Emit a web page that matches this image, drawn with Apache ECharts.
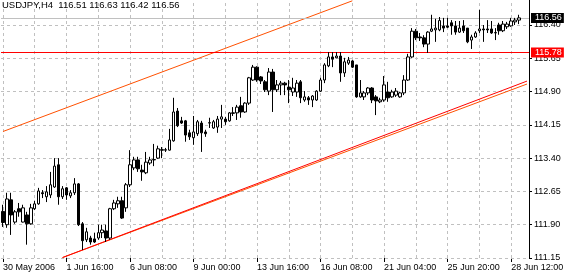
<!DOCTYPE html>
<html>
<head>
<meta charset="utf-8">
<script src="https://cdn.jsdelivr.net/npm/echarts@6/dist/echarts.min.js"></script>
<style>
html, body { margin: 0; padding: 0; background: #fff; }
#chart { width: 570px; height: 277px; }
</style>
</head>
<body>
<div id="chart"></div>
<script>
// H4 bars: day, first hour, number of bars
var sessions = [
    ['30 May', 0, 6], ['31 May', 0, 6], ['1 Jun', 0, 6], ['2 Jun', 0, 5], ['4 Jun', 20, 1],
    ['5 Jun', 0, 6], ['6 Jun', 0, 6], ['7 Jun', 0, 6], ['8 Jun', 0, 6], ['9 Jun', 0, 5], ['11 Jun', 20, 1],
    ['12 Jun', 0, 6], ['13 Jun', 0, 6], ['14 Jun', 0, 6], ['15 Jun', 0, 6], ['16 Jun', 0, 5],
    ['19 Jun', 0, 6], ['20 Jun', 0, 6], ['21 Jun', 0, 6], ['22 Jun', 0, 6], ['23 Jun', 0, 5], ['25 Jun', 20, 1],
    ['26 Jun', 0, 6], ['27 Jun', 0, 6], ['28 Jun', 0, 6]
];

var tickLabels = ['30 May 2006', '1 Jun 16:00', '6 Jun 08:00', '9 Jun 00:00', '13 Jun 16:00',
    '16 Jun 08:00', '21 Jun 04:00', '25 Jun 20:00', '28 Jun 12:00'];
var priceTicks = { min: 111.15, max: 116.963, step: 0.75 };

var open = [
    112.20, 111.90, 112.46, 111.96, 112.26, 111.96, 112.12, 111.92, 112.26, 112.37,
    112.62, 112.53, 112.57, 112.75, 113.25, 112.53, 112.73, 112.55, 112.62, 112.82,
    111.92, 111.56, 111.60, 111.58, 111.60, 111.72, 111.76, 111.60, 112.26, 112.37,
    112.44, 112.28, 112.80, 113.18, 113.36, 113.13, 113.07, 113.29, 113.36, 113.40,
    113.59, 113.58, 113.58, 113.79, 114.46, 114.24, 114.24, 113.97, 113.86, 113.95,
    114.19, 113.99, 114.19, 114.08, 114.10, 114.28, 114.28, 114.24, 114.42, 114.42,
    114.58, 114.44, 114.64, 115.16, 115.45, 115.23, 115.12, 114.91, 115.34, 114.94,
    115.05, 115.09, 115.00, 114.89, 114.89, 115.12, 114.71, 114.76, 114.71, 114.71,
    114.91, 115.16, 115.48, 115.68, 115.66, 115.70, 115.32, 115.54, 115.59, 115.50,
    114.78, 114.78, 114.87, 114.98, 114.78, 114.67, 114.71, 114.89, 114.78, 114.82,
    114.78, 114.87, 115.16, 115.68, 116.26, 116.13, 116.11, 115.97, 116.26, 116.29,
    116.29, 116.38, 116.38, 116.45, 116.38, 116.24, 116.38, 116.33, 116.06, 116.13,
    116.27, 116.31, 116.31, 116.31, 116.22, 116.40, 116.27, 116.36, 116.38, 116.47,
    116.51
];
var close = [
    111.95, 112.48, 112.12, 112.19, 112.19, 112.28, 111.92, 112.28, 112.37, 112.66,
    112.60, 112.64, 112.80, 113.22, 112.53, 112.71, 112.57, 112.62, 112.82, 111.90,
    111.54, 111.74, 111.51, 111.51, 111.72, 111.78, 111.60, 112.26, 112.39, 112.44,
    112.05, 112.80, 113.25, 113.36, 113.16, 113.09, 113.31, 113.36, 113.37, 113.61,
    113.58, 113.59, 113.81, 114.44, 114.13, 114.19, 113.92, 113.88, 113.99, 114.22,
    113.97, 113.95, 114.20, 114.22, 114.28, 114.33, 114.22, 114.42, 114.41, 114.55,
    114.44, 114.64, 115.21, 115.45, 115.16, 115.14, 114.94, 115.34, 114.94, 115.05,
    115.09, 115.05, 114.94, 114.98, 115.09, 114.76, 114.78, 114.71, 114.80, 114.91,
    115.16, 115.50, 115.68, 115.63, 115.70, 115.32, 115.57, 115.61, 115.45, 114.78,
    114.87, 114.87, 114.98, 114.71, 114.69, 114.71, 115.05, 114.76, 114.89, 114.91,
    114.87, 115.16, 115.68, 116.26, 116.11, 116.11, 115.97, 116.24, 116.31, 116.33,
    116.50, 116.33, 116.35, 116.38, 116.24, 116.33, 116.27, 116.02, 116.13, 116.22,
    116.31, 116.29, 116.29, 116.22, 116.23, 116.27, 116.42, 116.42, 116.49, 116.51,
    116.56
];
var low = [
    111.85, 111.83, 111.67, 111.92, 112.08, 111.95, 111.45, 111.90, 112.23, 112.35,
    112.50, 112.41, 112.50, 112.73, 112.35, 112.48, 112.46, 112.50, 112.57, 111.87,
    111.33, 111.51, 111.45, 111.49, 111.56, 111.60, 111.51, 111.56, 112.23, 112.28,
    112.03, 112.19, 112.75, 113.13, 113.09, 112.89, 113.04, 113.25, 113.22, 113.38,
    113.40, 113.54, 113.57, 113.77, 114.10, 114.17, 113.77, 113.81, 113.70, 113.90,
    113.54, 113.88, 114.08, 114.06, 113.97, 114.08, 114.15, 114.22, 114.35, 114.26,
    114.31, 114.42, 114.60, 115.14, 115.12, 115.07, 114.89, 114.82, 114.44, 114.89,
    114.82, 114.82, 114.64, 114.80, 114.78, 114.64, 114.67, 114.60, 114.55, 114.69,
    114.89, 115.09, 115.45, 115.45, 115.65, 115.12, 115.23, 115.50, 115.43, 114.76,
    114.76, 114.71, 114.82, 114.64, 114.37, 114.64, 114.67, 114.67, 114.76, 114.78,
    114.76, 114.82, 115.14, 115.66, 116.06, 116.04, 115.90, 115.77, 116.24, 116.02,
    116.26, 116.24, 116.33, 116.18, 116.18, 116.22, 116.22, 115.99, 115.86, 116.11,
    116.22, 116.02, 116.22, 116.20, 116.06, 116.18, 116.24, 116.31, 116.36, 116.40,
    116.42
];
var high = [
    112.35, 112.62, 112.62, 112.23, 112.39, 112.35, 112.19, 112.37, 112.44, 112.73,
    112.68, 112.77, 113.09, 113.40, 113.40, 112.77, 112.75, 112.68, 112.95, 112.84,
    111.96, 111.83, 111.65, 111.72, 111.90, 111.90, 111.90, 112.28, 112.46, 112.53,
    112.53, 112.84, 113.58, 113.43, 113.43, 113.25, 113.54, 113.43, 113.72, 113.68,
    113.65, 113.63, 114.06, 114.76, 114.53, 114.33, 114.26, 114.04, 114.35, 114.26,
    114.24, 114.04, 114.31, 114.26, 114.35, 114.60, 114.33, 114.44, 114.55, 114.60,
    114.78, 114.66, 115.23, 115.50, 115.47, 115.25, 115.16, 115.43, 115.41, 115.16,
    115.14, 115.12, 115.16, 115.21, 115.16, 115.16, 114.91, 114.80, 114.82, 114.93,
    115.21, 115.54, 115.79, 115.79, 115.79, 115.79, 115.66, 115.68, 115.61, 115.50,
    115.16, 114.91, 115.00, 115.00, 114.82, 114.76, 115.25, 115.12, 114.94, 114.98,
    114.89, 115.27, 115.75, 116.33, 116.31, 116.22, 116.17, 116.26, 116.63, 116.54,
    116.58, 116.56, 116.56, 116.51, 116.49, 116.49, 116.51, 116.33, 116.18, 116.26,
    116.74, 116.40, 116.51, 116.49, 116.33, 116.45, 116.49, 116.47, 116.56, 116.56,
    116.63
];

// trend lines: [bar index, price]
var upperLine = [[0, 114.00], [88, 116.945]];
var lowerRedLine = [[15, 111.16], [132, 115.136]];
var lowerOrangeLine = [[15, 111.16], [132, 115.07]];
var levelPrice = 115.78;
var bidPrice = 116.56;

var categories = [];
sessions.forEach(function (s) {
    for (var k = 0; k < s[2]; k++) {
        var h = s[1] + 4 * k;
        categories.push(s[0] + ' ' + (h < 10 ? '0' : '') + h + ':00');
    }
});
// empty bars for the chart shift on the right
categories.push('', ' ');

var candles = open.map(function (o, i) {
    return [o, close[i], low[i], high[i]];
});

var font = 'Liberation Sans, Arial, sans-serif';
var gridColor = '#c0c0c0';

// chart grid: a vertical line every 8 bars, a horizontal one on every price tick
var gridStyle = { color: gridColor, type: [3, 3], width: 1 };
var gridLines = [];
for (var k = 0; k <= 128; k += 8) {
    gridLines.push({ xAxis: k, lineStyle: gridStyle });
}
for (var p = 0; p < 8; p++) {
    gridLines.push({ yAxis: +(priceTicks.min + p * priceTicks.step).toFixed(2), lineStyle: gridStyle });
}

function trend(pts, color) {
    return [
        { coord: pts[0], lineStyle: { color: color, type: 'solid' } },
        { coord: pts[1] }
    ];
}

var chart = echarts.init(document.getElementById('chart'));
chart.setOption({
    animation: false,
    title: {
        text: 'USDJPY,H4  116.51 116.63 116.42 116.56',
        left: 2,
        top: 0,
        padding: 0,
        textStyle: { fontFamily: font, fontSize: 9.5, fontWeight: 'normal', color: '#000' }
    },
    grid: { left: -4, right: 41, top: 0, bottom: 19 },
    xAxis: {
        type: 'category',
        data: categories,
        boundaryGap: true,
        axisLine: { show: false },
        axisTick: {
            show: true,
            alignWithLabel: true,
            length: 4,
            lineStyle: { color: '#000' },
            interval: 15
        },
        axisLabel: {
            align: 'left',
            margin: 5,
            fontFamily: font,
            fontSize: 9,
            color: '#000',
            interval: 15,
            formatter: function (v, i) { return tickLabels[i / 16] || ''; }
        },
        splitLine: { show: false }
    },
    yAxis: {
        type: 'value',
        position: 'right',
        min: priceTicks.min,
        max: priceTicks.max,
        interval: priceTicks.step,
        axisLine: { show: true, lineStyle: { color: '#000' } },
        axisTick: { show: true, length: 3, lineStyle: { color: '#000' } },
        axisLabel: {
            margin: 5,
            fontFamily: font,
            fontSize: 9,
            color: '#000',
            showMaxLabel: false,
            formatter: function (v) { return v.toFixed(2); }
        },
        splitLine: { show: false }
    },
    series: [{
        type: 'candlestick',
        data: candles,
        barWidth: 3,
        z: 3,
        itemStyle: {
            color: '#fff',
            color0: '#000',
            borderColor: '#000',
            borderColor0: '#000',
            borderWidth: 1
        },
        markLine: {
            silent: true,
            z: 1,
            symbol: ['none', 'none'],
            animation: false,
            label: { show: false },
            lineStyle: { type: 'solid', width: 1 },
            data: gridLines.concat([
                trend(upperLine, '#ff5000'),
                trend(lowerOrangeLine, '#ff5000'),
                trend(lowerRedLine, '#ff0000'),
                {
                    yAxis: levelPrice,
                    lineStyle: { color: '#ff0000', type: 'solid' },
                    label: {
                        show: true, position: 'end', distance: 2,
                        formatter: levelPrice.toFixed(2),
                        color: '#fff', backgroundColor: '#ff0000',
                        fontFamily: font, fontSize: 9, lineHeight: 9, padding: [1, 2, 0, 4]
                    }
                },
                {
                    yAxis: bidPrice,
                    lineStyle: { color: gridColor, type: 'solid' },
                    label: {
                        show: true, position: 'end', distance: 2,
                        formatter: bidPrice.toFixed(2),
                        color: '#fff', backgroundColor: '#000',
                        fontFamily: font, fontSize: 9, lineHeight: 9, padding: [1, 2, 0, 4]
                    }
                }
            ])
        }
    }]
});
</script>
</body>
</html>
